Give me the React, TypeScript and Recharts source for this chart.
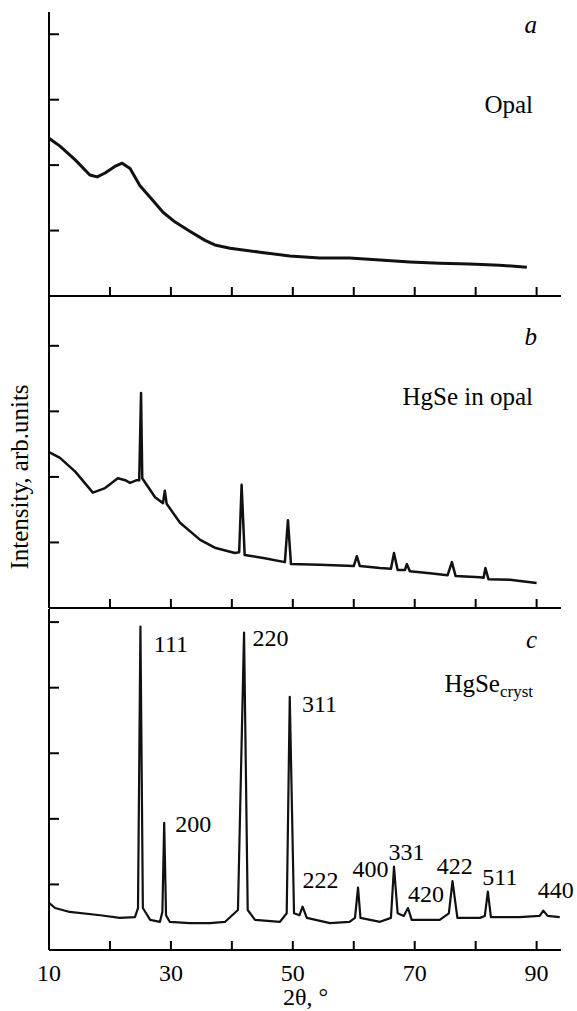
import { LineChart, Line, XAxis, YAxis, ReferenceDot } from 'recharts'

const FONT = '"Liberation Serif", "Times New Roman", serif'

// 2θ positions and intensities
const opalAngle = [10, 11.8, 14.3, 16.7, 17.9, 19.2, 20.8, 22.0, 23.3, 24.9, 27.4, 28.7, 30.7, 33.1, 35.6, 37.2, 39.7, 44.6, 49.5, 54.4, 59.3, 64.3, 69.2, 74.1, 79.0, 83.9, 88.4]
const opalIntensity = [2.41, 2.29, 2.08, 1.85, 1.82, 1.88, 1.98, 2.03, 1.95, 1.69, 1.42, 1.28, 1.13, 0.99, 0.85, 0.78, 0.73, 0.67, 0.61, 0.58, 0.58, 0.55, 0.52, 0.5, 0.49, 0.47, 0.44]

const hgseOpalAngle = [10, 11.8, 14.3, 17.2, 19.2, 21.3, 22.5, 23.3, 24.4, 24.8, 25.1, 25.3, 27.4, 28.7, 29.0, 29.3, 31.5, 34.8, 37.2, 40.5, 41.2, 41.6, 42.1, 45.4, 48.7, 49.2, 49.7, 54.4, 60.0, 60.5, 61.0, 64.3, 66.1, 66.6, 67.2, 68.4, 68.7, 69.2, 72.5, 75.4, 76.1, 76.7, 80.7, 81.3, 81.6, 82.1, 85.6, 90.0]
const hgseOpalIntensity = [2.38, 2.29, 2.08, 1.76, 1.83, 1.98, 1.95, 1.91, 1.95, 1.95, 3.28, 1.98, 1.69, 1.6, 1.79, 1.59, 1.3, 1.04, 0.92, 0.84, 0.85, 1.88, 0.81, 0.76, 0.7, 1.34, 0.67, 0.66, 0.64, 0.79, 0.64, 0.61, 0.6, 0.84, 0.58, 0.58, 0.67, 0.56, 0.53, 0.5, 0.7, 0.49, 0.47, 0.46, 0.61, 0.44, 0.43, 0.38]

const crystAngle = [10, 11.0, 13.4, 18.4, 21.6, 24.1, 24.6, 25.0, 25.4, 25.6, 26.6, 28.2, 28.6, 28.9, 29.2, 29.8, 33.1, 36.4, 38.9, 41.0, 42.0, 42.6, 43.8, 47.9, 49.0, 49.5, 50.2, 51.1, 51.6, 52.3, 56.1, 59.3, 60.2, 60.7, 61.1, 64.3, 66.1, 66.6, 67.2, 68.2, 68.9, 69.5, 74.1, 75.6, 76.2, 77.0, 80.7, 81.5, 82.0, 82.5, 87.2, 90.5, 91.1, 91.8, 93.8]
const crystIntensity = [0.72, 0.64, 0.58, 0.53, 0.49, 0.5, 0.64, 4.93, 0.64, 0.61, 0.46, 0.43, 0.58, 1.94, 0.53, 0.43, 0.41, 0.41, 0.43, 0.61, 4.84, 0.61, 0.46, 0.43, 0.56, 3.86, 0.56, 0.53, 0.66, 0.49, 0.41, 0.43, 0.49, 0.95, 0.49, 0.43, 0.49, 1.27, 0.56, 0.52, 0.64, 0.46, 0.46, 0.56, 1.05, 0.49, 0.49, 0.52, 0.89, 0.5, 0.5, 0.52, 0.6, 0.52, 0.5]

// Miller indices in panel c, placed at (2θ, intensity) of the text's lower-left corner
const hklLabels = ['111', '220', '200', '311', '222', '400', '331', '420', '422', '511', '440']
const hklAngle = [27.2, 43.4, 30.7, 51.5, 51.6, 59.8, 65.7, 68.9, 73.6, 81.1, 90.2]
const hklIntensity = [4.55, 4.63, 1.8, 3.63, 0.95, 1.11, 1.37, 0.73, 1.16, 0.99, 0.79]

const xTicks = [10, 20, 30, 40, 50, 60, 70, 80, 90]

const toRows = (xs: number[], ys: number[]) => xs.map((x, i) => ({ x, y: ys[i] }))

const axisStyle = { stroke: '#000', strokeWidth: 2 }

// inward tick marks, drawn by hand since the axis draws them outward
const XTick = (withLabels: boolean) => (p: any) => (
  <g>
    <line x1={p.x} x2={p.x} y1={p.y} y2={p.y - 9} stroke="#000" strokeWidth={2} />
    {withLabels && (p.payload.value - 10) % 20 === 0 && (
      <text x={p.x} y={p.y + 31} textAnchor="middle" fontFamily={FONT} fontSize={24} fill="#000">
        {p.payload.value}
      </text>
    )}
  </g>
)

const YTick = (p: any) => (
  <line x1={p.x} x2={p.x + 10} y1={p.y} y2={p.y} stroke="#000" strokeWidth={2} />
)

function Panel({ data, top, height, marginTop, bottom, yMax, yTicks, withLabels, lineWidth, children }: any) {
  return (
    <div style={{ position: 'absolute', left: 0, top }}>
      <LineChart width={577} height={height} data={data}
        margin={{ top: marginTop, right: 16, bottom, left: 48 }}>
        <XAxis type="number" dataKey="x" domain={[10, 94]} ticks={xTicks}
          allowDataOverflow height={withLabels ? 60 : 2}
          axisLine={axisStyle} tickLine={false} tickSize={0} tickMargin={0}
          tick={XTick(!!withLabels)} />
        <YAxis type="number" domain={[0, yMax]} ticks={yTicks} width={1}
          allowDataOverflow axisLine={axisStyle} tickLine={false} tickSize={0} tickMargin={0}
          tick={YTick} />
        <Line dataKey="y" type="linear" stroke="#111" strokeWidth={lineWidth}
          strokeLinejoin="round" dot={false} isAnimationActive={false} />
        {children}
      </LineChart>
    </div>
  )
}

export default function App() {
  return (
    <div style={{ position: 'absolute', left: 0, top: 0, width: 577, height: 1011, background: '#fff' }}>
      <Panel data={toRows(opalAngle, opalIntensity)} top={0} height={300} marginTop={12} bottom={2}
        yMax={4.34} yTicks={[1, 2, 3, 4]} lineWidth={3} />
      <Panel data={toRows(hgseOpalAngle, hgseOpalIntensity)} top={290} height={322} marginTop={6} bottom={2}
        yMax={4.76} yTicks={[1, 2, 3, 4]} lineWidth={2.5} />
      <Panel data={toRows(crystAngle, crystIntensity)} top={600} height={410} marginTop={9} bottom={0}
        yMax={5.2} yTicks={[1, 2, 3, 4, 5]} withLabels lineWidth={2.2}>
        {hklLabels.map((t, i) => (
          <ReferenceDot key={t} x={hklAngle[i]} y={hklIntensity[i]} r={0} ifOverflow="visible"
            label={(p: any) => (
              <text x={p.viewBox.x} y={p.viewBox.y} fontFamily={FONT} fontSize={24} fill="#000">{t}</text>
            )} />
        ))}
      </Panel>

      <svg width={577} height={1011} style={{ position: 'absolute', left: 0, top: 0, pointerEvents: 'none' }}
        fontFamily={FONT} fill="#000">
        <text x={537} y={33} textAnchor="end" fontSize={25} fontStyle="italic">a</text>
        <text x={533} y={113} textAnchor="end" fontSize={25}>Opal</text>
        <text x={537} y={345} textAnchor="end" fontSize={25} fontStyle="italic">b</text>
        <text x={533} y={405} textAnchor="end" fontSize={25}>HgSe in opal</text>
        <text x={537} y={648} textAnchor="end" fontSize={25} fontStyle="italic">c</text>
        <text x={533} y={692} textAnchor="end" fontSize={25}>
          HgSe<tspan fontSize={17} dy={5}>cryst</tspan>
        </text>
        <text x={28} y={477} textAnchor="middle" fontSize={25} transform="rotate(-90 28 477)">
          Intensity, arb.units
        </text>
        <text x={283} y={1005} fontSize={24}>2θ, °</text>
      </svg>
    </div>
  )
}
